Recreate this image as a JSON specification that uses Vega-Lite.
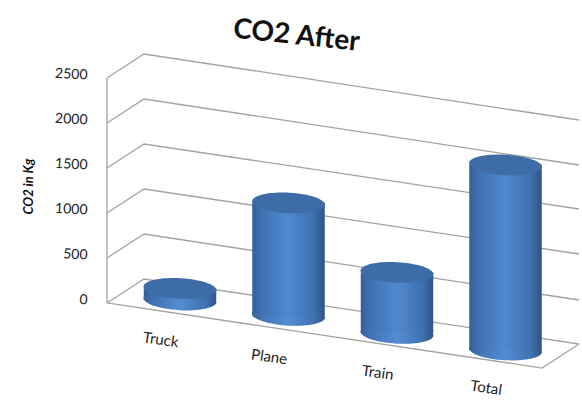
{
"$schema":"https://vega.github.io/schema/vega-lite/v6.json",
"width":582,"height":401,"padding":0,"autosize":{"type":"none"},
"background":"white",
"config":{"view":{"stroke":null},"font":"Lato"},
"title":{"text":"CO2 After","font":"Lato","fontSize":28,"fontWeight":"bold","color":"#111111","angle":6,"anchor":"start","frame":"group","dx":240,"dy":36},
"datasets":{
"bars":[
{"category":"Truck","pos":1,"co2":128,"base":0,"top":128,"labelY":-472},
{"category":"Plane","pos":2,"co2":1250,"base":-172,"top":1078,"labelY":-661},
{"category":"Train","pos":3,"co2":678,"base":-372,"top":306,"labelY":-839},
{"category":"Total","pos":4,"co2":2056,"base":-556,"top":1500,"labelY":-1006}
],
"frame":[
{"series":"2500","x":0.327,"kg":2467},{"series":"2500","x":0.668,"kg":2733},{"series":"2500","x":4.677,"kg":2000},
{"series":"2000","x":0.327,"kg":1967},{"series":"2000","x":0.668,"kg":2233},{"series":"2000","x":4.677,"kg":1500},
{"series":"1500","x":0.327,"kg":1467},{"series":"1500","x":0.668,"kg":1733},{"series":"1500","x":4.677,"kg":1011},
{"series":"1000","x":0.327,"kg":967},{"series":"1000","x":0.668,"kg":1233},{"series":"1000","x":4.677,"kg":511},
{"series":"500","x":0.327,"kg":467},{"series":"500","x":0.668,"kg":733},{"series":"500","x":4.677,"kg":0},
{"series":"0","x":0.327,"kg":-33},{"series":"0","x":0.668,"kg":233},{"series":"0","x":4.677,"kg":-489},
{"series":"wall","x":0.327,"kg":2467},{"series":"wall","x":0.3271,"kg":-33},
{"series":"front","x":0.327,"kg":-33},{"series":"front","x":4.337,"kg":-756},{"series":"front","x":4.677,"kg":-489}
]},
"encoding":{},
"layer":[
{"data":{"name":"frame"},
 "mark":{"type":"line","color":"#a3a3a3","strokeWidth":1.3,"clip":false},
 "encoding":{
  "x":{"field":"x","type":"quantitative","scale":{"domain":[-0.659,4.705],"nice":false,"zero":false,"padding":0},"axis":null},
  "y":{"field":"kg","type":"quantitative","scale":{"domain":[-1122.2,3333.3],"nice":false,"zero":false,"padding":0},
   "axis":{"title":"CO2 in Kg","values":[0,500,1000,1500,2000,2500],"format":"d","orient":"left","offset":-87,"grid":false,"ticks":false,"domain":false,"labelPadding":0,"labelFont":"Lato","labelFontSize":14,"labelColor":"#222222","labelAngle":3,"titleFont":"Lato","titleFontSize":13,"titleFontWeight":"bold","titleFontStyle":"italic","titleColor":"#111111","titleX":-52,"titleY":186}},
  "detail":{"field":"series"}}},
{"data":{"name":"bars"},
 "mark":{"type":"point","filled":true,"opacity":1,"size":5329,"angle":3,"shape":"M-1,0A1,0.28,0,1,1,1,0A1,0.28,0,1,1,-1,0Z",
  "fill":{"x1":0,"x2":1,"y1":0,"y2":0,"gradient":"linear","stops":[{"offset":0,"color":"#33609a"},{"offset":0.12,"color":"#3f72b4"},{"offset":0.5,"color":"#548cd3"},{"offset":0.85,"color":"#3f72b2"},{"offset":1,"color":"#2d5585"}]},"stroke":null},
 "encoding":{"x":{"field":"pos","type":"quantitative"},"y":{"field":"base","type":"quantitative"}}},
{"data":{"name":"bars"},
 "mark":{"type":"bar","width":72.5,
  "fill":{"x1":0,"x2":1,"y1":0,"y2":0,"gradient":"linear","stops":[{"offset":0,"color":"#33609a"},{"offset":0.12,"color":"#3d70b2"},{"offset":0.5,"color":"#5189d0"},{"offset":0.85,"color":"#3d70b0"},{"offset":1,"color":"#2d5585"}]}},
 "encoding":{"x":{"field":"pos","type":"quantitative"},"y":{"field":"base","type":"quantitative"},"y2":{"field":"top"}}},
{"data":{"name":"bars"},
 "mark":{"type":"point","filled":true,"opacity":1,"size":5329,"angle":3,"shape":"M-1,0A1,0.28,0,1,1,1,0A1,0.28,0,1,1,-1,0Z","fill":"#3d6ca6","stroke":null},
 "encoding":{"x":{"field":"pos","type":"quantitative"},"y":{"field":"top","type":"quantitative"}}},
{"data":{"name":"bars"},
 "mark":{"type":"text","font":"Lato","fontSize":15,"color":"#222222","angle":8,"dx":-19.5,"align":"center","baseline":"middle"},
 "encoding":{"x":{"field":"pos","type":"quantitative"},"y":{"field":"labelY","type":"quantitative"},"text":{"field":"category"}}}
]
}
